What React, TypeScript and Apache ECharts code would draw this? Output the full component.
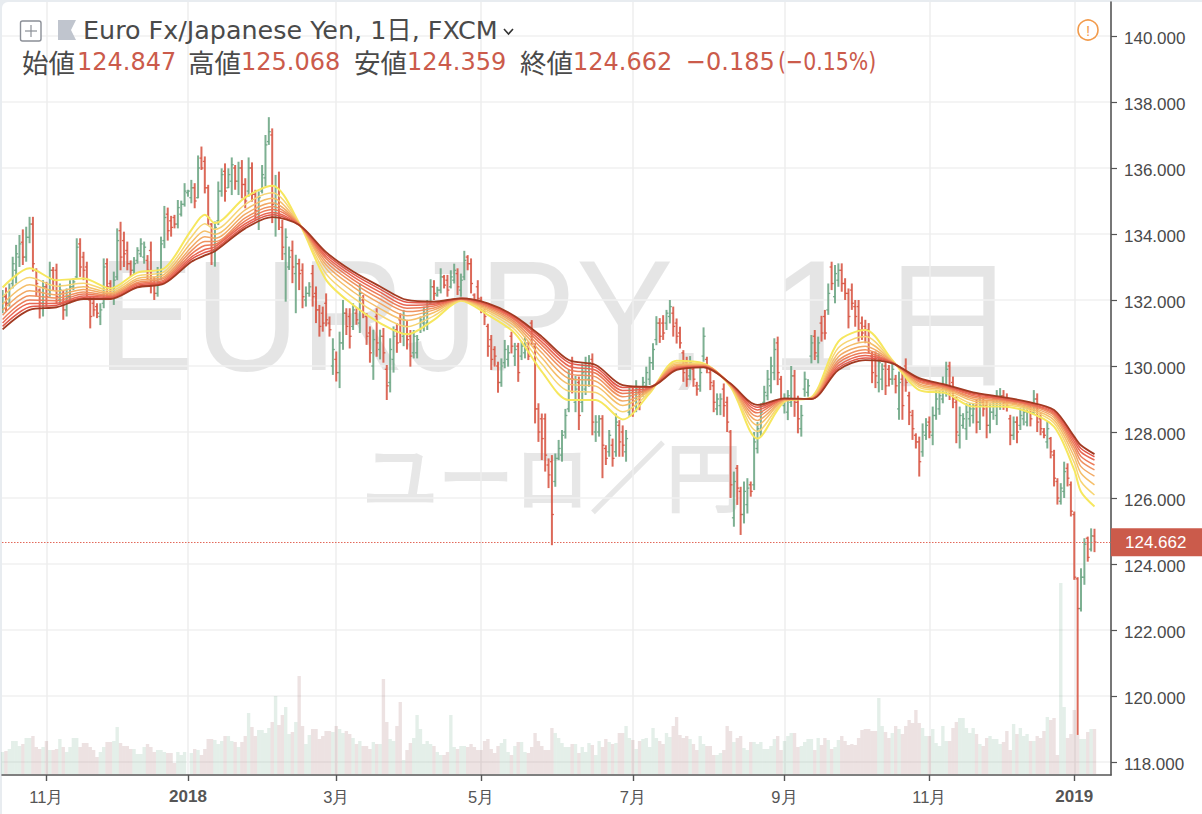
import React, { useEffect, useRef } from "react";
import * as echarts from "echarts";

type Bar = [number, number, number, number];

// [open, high, low, close], day by day
const barsA: Bar[] = [
[131.8,132.3,131.6,132.1],[132.1,132.38,131.65,131.9],[131.9,132.5,131.8,132.35],[132.5,133.31,132.35,133.1],[132.9,133.67,132.5,133.4],
[133.3,133.97,133,133.7],[133.75,134.14,133.06,133.3],[133.3,134.22,133.16,133.9],[133.9,134.52,133.72,134.3],[134.3,134.52,132.86,133.1],
[132.9,132.96,132.1,132.5],[132.3,132.35,131.44,131.9],[131.9,132.6,131.5,132.4],[132.4,132.55,131.8,132.1],[132.3,133.16,132.1,132.9],
[132.9,133,132.3,132.6],[132.9,133.1,131.9,132.1],[132,132.5,131.85,132.3],[132.2,132.3,131.4,131.7],[131.7,132.35,131.5,132.1],
[132.1,132.6,131.9,132.4],[132.4,132.65,132.3,132.55],[132.7,133.87,132.65,133.6],[133.7,133.87,132.7,133],[133.3,133.46,132.6,132.9],
[133,133.16,132.1,132.4],[132,132.1,131.14,131.5],[131.9,132.1,131.5,131.7],[131.8,131.9,131.45,131.6],[131.5,131.9,131.24,131.7],
[131.9,133.26,131.75,133],[133.1,133.26,132.1,132.4],[132.5,132.6,132,132.2],[132.1,132.86,131.85,132.6],[132.7,134.17,132.6,133.8],
[134.1,134.37,132.9,133.3],[133.8,134.07,133,133.4],[133.5,133.77,132.9,133.1],[133.1,133.2,132.7,132.9],[132.9,133.3,132.76,133.1],
];
const barsB: Bar[] = [
[133.2,133.6,133.1,133.5],[133.4,133.87,133.3,133.7],[133.3,133.77,133.1,133.6],[133.2,133.36,132.6,132.9],[133.5,133.77,132.2,132.5],
[132.5,132.7,132,132.2],[132.2,133,132.1,132.8],[132.8,133.92,132.6,133.7],[133.8,134.85,133.57,134.5],[134.6,134.8,133.8,134.1],
[134.4,134.55,133.92,134.2],[134.5,134.58,134.17,134.3],[134.3,135.03,134.17,134.8],[134.6,135.01,134.53,134.9],[134.9,135.54,134.83,135.3],
[135.25,135.34,135.13,135.3],[135.1,135.64,134.93,135.4],[135.4,135.54,134.78,135],[135.1,136.38,135.08,136],[136.3,136.65,135.94,136],
[136.2,136.35,135.23,135.4],[135.4,135.49,134.27,134.5],[134.3,134.33,133.06,133.5],[133.5,134.38,133.01,134.2],[134.4,135.59,134.27,135.3],
[135.3,135.99,135.13,135.8],[135.9,136.14,134.98,135.3],[135.4,135.99,135.39,135.8],[135.6,136.32,135.18,136.1],[136,136.09,135.34,135.6],
[135.6,136.19,135.18,136],[136,136.24,135.08,135.5],[135.5,135.69,134.78,135],[135.3,136.32,135.13,136],[136,136.17,134.98,135.2],
[135.2,135.34,134.43,134.7],[134.6,135.29,134.12,135.1],[135.3,136.09,135.23,135.8],[135.7,137,135.44,136.7],[136.8,137.54,136.7,137.1],
];
const barsC: Bar[] = [
[137,137.2,134.33,134.9],[134.6,135.79,133.92,135.4],[135.4,135.89,134.12,134.5],[134.2,134.43,133.21,133.6],[133.4,134.17,131.95,133.9],
[133,133.62,132.91,133.3],[133.5,133.8,132.51,133],[132.8,133.37,131.6,133.1],[133.1,133.25,132.3,132.8],[132.9,133.11,131.75,132.1],
[132,132.41,131.8,132.2],[132.2,132.54,132.1,132.4],[132.8,133.06,131.8,132.1],[132.2,132.41,131.3,131.7],[131.7,131.85,130.89,131.2],
[131.6,131.8,131.04,131.3],[131.9,132.2,131.2,131.4],[131.3,131.5,130.89,131.1],[130,130.84,129.73,130.5],[130.2,130.44,129.53,129.8],
[129.8,131.04,129.33,130.7],[130.7,132,130.49,131.6],[131.6,131.75,130.94,131.2],[131.5,131.75,130.53,130.9],[131.2,131.9,131.09,131.7],
[131.6,131.75,131.25,131.4],[131.3,132.5,131,132.2],[132,132.15,131.45,131.6],[131.5,131.6,130.64,130.9],[131,131.2,130.1,130.4],
[130,131.1,129.58,130.8],[131.5,131.75,130.28,130.7],[130.5,131.1,130.2,130.9],[130.9,131.15,130.1,130.4],[129.9,130.03,128.97,129.4],
[129.5,130.84,129.2,130.5],[130.2,131.2,129.8,130.9],[131.1,131.3,130.4,130.7],[131.4,131.6,130.7,131],[130.9,131.7,130.6,131.4],
];
const barsD: Bar[] = [
[131.2,131.4,130.5,130.8],[130.9,131.09,129.98,130.3],[130.4,131.09,130.23,130.9],[130.4,130.94,130.23,130.8],[131.1,131.5,131,131.4],
[131.3,131.8,131.05,131.6],[131.3,132,131.09,131.8],[131.9,132.63,131.85,132.4],[132.4,132.6,132,132.2],[132.15,132.4,132.1,132.3],
[132.3,132.96,132.2,132.7],[132.7,132.76,132.35,132.45],[132.6,132.76,132.1,132.3],[132.4,132.9,132.35,132.7],[132.6,133.1,132.5,132.9],
[132.8,132.96,132.15,132.4],[132.3,132.8,132.1,132.6],[132.7,133.49,132.6,133.2],[133.3,133.36,132.9,133.1],[133.1,133.26,132.2,132.5],
[132.15,132.2,131.85,132],[132.4,132.6,131.85,132.05],[132,132.1,131.6,131.8],[131.7,131.75,131.24,131.5],[131.2,131.28,130.28,130.6],
[130.8,130.94,129.88,130.2],[130.5,130.6,129.98,130.3],[130,130.13,129.19,129.5],[129.5,130.23,129.37,130],[130.1,130.79,129.93,130.5],
[130.2,130.63,129.98,130.4],[130.9,131.04,130.38,130.6],[130.3,130.7,130,130.5],[130.6,130.7,129.52,129.8],[130.3,130.74,130.18,130.6],
[130.4,130.89,130.23,130.7],[130.6,130.74,130.18,130.3],[131.3,131.39,130.63,130.9],[130.6,130.69,128.26,128.7],[128.7,128.87,127.7,128],
];
const barsE: Bar[] = [
[128.4,128.56,127.15,127.8],[128.4,128.56,126.8,127.3],[127,127.2,126.3,126.7],[127.1,127.3,124.57,125.5],[126.5,127.35,126.34,127.2],
[127.2,127.76,127.15,127.5],[127.3,128.06,127.1,127.9],[128,128.7,127.8,128.5],[128.7,129.88,128.6,129.6],[130,130.28,129.17,129.6],
[128.9,129.7,128.6,129.3],[129.5,129.68,128.06,128.5],[128.9,130.08,128.6,129.8],[129.3,130.28,129.12,130],[129.6,130.33,129.37,130.1],
[130.2,130.38,127.9,128.3],[128,128.51,127.7,128.3],[128,128.51,127.86,128.4],[128.4,128.51,126.6,127.6],[127.5,127.6,127,127.2],
[127.4,128.06,127.25,127.9],[127.6,127.8,126.95,127.2],[127.4,128.56,127.25,128.3],[128.2,128.36,127.25,127.7],[128,128.2,127.25,127.6],
[127.4,128.06,127.1,127.8],[128.6,129.37,128.46,129.1],[129.2,129.37,128.46,128.8],[128.8,129.57,128.6,129.3],[129.2,129.37,128.66,128.9],
[129.2,129.67,129.07,129.5],[129.4,129.98,129.17,129.8],[129.6,130.28,129.42,130.1],[130.1,130.69,129.88,130.5],[130.8,131.51,130.63,131.3],
[131.3,131.45,130.7,130.9],[131.3,131.54,130.79,131],[131.3,131.7,131.09,131.6],[131.5,132,131.29,131.8],[131.6,131.8,130.89,131.2],
];
const barsF: Bar[] = [
[131.3,131.44,130.68,130.9],[131,131.19,130.53,130.7],[130.4,130.48,129.52,129.8],[130.1,130.28,129.37,129.6],[129.7,130.3,129.57,130.1],
[129.9,130.03,129.37,129.6],[129.4,129.52,129.1,129.3],[129.4,129.98,129.22,129.8],[130.3,131.17,130.13,130.9],[130.2,130.28,129.78,130],
[129.8,129.88,129.27,129.5],[129.4,129.57,128.6,128.9],[128.7,129.17,128.51,129],[128.8,129.17,128.51,129],[129.3,129.47,128.46,128.8],
[128.9,129.07,128,128.3],[128,128.06,126,126.4],[125.4,126.8,125.13,126.5],[126.9,127,125.79,126.3],[126.2,126.34,124.88,125.5],
[125.5,126.5,125.23,126.2],[125.8,126.6,125.53,126.3],[126.4,126.5,126.04,126.2],[126.4,128,126.24,127.7],[127.5,128.3,127.35,128.1],
[128,128.87,127.86,128.6],[128.9,129.4,128.77,129.2],[129.1,129.88,128.96,129.6],[129.4,130.28,129.17,130],[129.8,130.84,129.57,130.5],
[130.7,130.89,129.42,129.8],[129.6,129.7,128.85,129],[128.8,129.17,128.56,129],[128.6,129.27,128.36,129.1],[128.9,130,128.76,129.7],
[129.7,129.88,128.46,128.9],[128.9,129.1,127.96,128.4],[128.1,128.82,127.86,128.5],[129.3,129.83,129.07,129.6],[129.2,129.6,129.07,129.4],
];
const barsG: Bar[] = [
[130.3,130.94,130.08,130.7],[130.9,131.09,130.18,130.4],[130.3,130.89,130.08,130.7],[131.3,131.52,130.74,131],[131.5,131.7,130.8,131],
[131.7,132.5,131.55,132.2],[133,133.16,132.3,132.5],[132.1,133.06,131.9,132.8],[132.6,133.11,132.4,132.9],[132.9,133.11,132.25,132.5],
[132.5,132.66,132,132.2],[132.2,132.35,131.14,131.5],[132.3,132.5,131.7,131.9],[131.8,132,131.19,131.5],[131.8,132,130.74,131.1],
[131.3,131.5,130.79,131],[131.2,131.4,130.69,130.9],[131.1,131.3,130.38,130.7],[130.3,130.44,129.48,129.8],[130.2,130.44,129.33,129.7],
[129.5,130.38,129.2,130.1],[129.6,130.08,129.27,129.9],[130,130.18,129.12,129.4],[129.9,130.03,129.38,129.6],[129.6,130.08,129.43,129.9],
[129.6,129.73,129.17,129.4],[128.7,129.83,128.37,129.5],[129.6,129.78,128.37,128.8],[130,130.23,129.22,129.5],[129.1,129.22,128.21,128.6],
[128.5,128.67,127.76,128.1],[127.9,127.96,127.5,127.7],[127.7,127.86,126.65,127.1],[127.4,128.26,127.25,128],[127.9,128.42,127.76,128.2],
[128.3,128.47,127.81,128],[127.9,128.77,127.6,128.5],[128.5,129.27,128.37,129],[128.7,129.27,128.52,129.1],[129,129.68,128.87,129.4],
];
const barsH: Bar[] = [
[129.3,130.13,129.07,129.9],[130,130.13,128.97,129.3],[129.5,129.68,128.72,129],[128.9,129.07,127.66,128],[127.9,128.77,127.5,128.5],
[128.2,128.57,128.1,128.4],[128.1,128.87,127.76,128.6],[128.4,128.87,128.16,128.7],[128.5,128.87,128.26,128.7],[128.8,128.97,127.96,128.3],
[128.3,129.07,128.06,128.8],[128.9,129.07,128.47,128.7],[128.8,128.97,127.81,128.2],[128.2,128.87,127.96,128.6],[128.6,129.07,128.37,128.9],
[128.5,129.27,128.21,129],[128.9,129.33,128.67,129.1],[129.1,129.27,128.67,128.9],[129,129.17,128.62,128.8],[128.4,128.52,127.6,127.9],
[127.9,128.47,127.76,128.3],[128.3,128.47,127.66,128],[128.2,128.72,128.06,128.5],[128.4,128.77,128.2,128.6],[128.3,128.72,128.17,128.6],
[128.7,128.87,128.17,128.4],[128.6,129.27,128.52,129],[129,129.17,128,128.3],[128.4,128.57,127.9,128.1],[128,128.12,127.81,127.9],
[127.7,128.32,127.5,128.1],[127.8,127.85,127.2,127.4],[127.3,127.46,126.35,126.6],[126.5,126.6,125.8,126],[125.9,126.45,125.8,126.3],
[126.2,127.1,126,126.8],[126.9,127.05,126.35,126.6],[126.4,126.5,125.44,125.6],[125.5,125.59,123.52,123.6],[123.55,123.6,118.82,122.65],
[122.65,123.87,122.56,123.6],[123.6,124.78,123.37,124.6],[124.78,124.83,124.07,124.2],[124.45,125.08,124.38,124.85],[124.847,125.068,124.359,124.662],
];

const volumes: number[] = [
22,23,25,33,33,28,30,36,36,38, 27,25,27,33,24,24,25,35,27,22, 27,36,36,27,31,31,27,24,17,22, 27,32,32,33,47,31,28,28,25,25,
20,20,27,30,27,22,24,24,22,21, 21,11,22,19,22,0,21,25,24,19, 25,35,35,34,30,33,38,38,33,32, 27,32,38,61,47,38,44,44,41,46,
52,78,49,59,67,40,42,52,98,48, 30,39,45,45,35,38,43,43,42,48, 45,41,43,40,36,30,33,28,28,25, 32,30,30,95,52,35,33,48,72,14,
24,31,36,59,45,30,33,30,28,22, 19,19,22,59,27,25,28,28,27,30, 27,24,24,33,35,25,21,28,31,35, 22,19,28,32,32,22,21,27,41,33,
28,24,24,46,41,36,31,27,27,30, 30,21,27,22,31,29,19,33,27,35, 32,30,31,41,41,48,36,34,25,33, 35,36,27,46,36,33,30,41,37,48,
57,39,36,38,35,30,24,38,30,28, 28,19,19,21,24,48,43,32,36,38, 26,24,32,32,30,32,25,25,28,35, 38,24,33,38,41,41,27,28,32,35,
35,24,36,29,36,34,25,27,34,38, 33,29,30,29,36,44,45,45,43,43, 76,48,42,36,41,48,45,40,48,54, 51,64,51,46,38,38,45,31,28,48,
33,33,46,52,56,56,46,41,46,40, 30,28,36,38,35,35,30,32,43,24, 50,40,46,38,40,33,33,38,36,43, 57,54,56,19,191,67,36,40,64,39,
35,35,42,45,45,
];

// bar numbers at which the nine moving-average lines were read
const ribbonDays = [0,8,16,24,32,40,48,56,60,63,72,80,88,96,104,112,120,128,136,144,152,160,168,176,184,192,200,208,216,224,232,240,248,256,264,272,280,288,296,304,312,318,320,324];
const ribbon1 = [132.38,132.96,132.6,132.65,132.35,132.83,132.96,134.12,134.58,134.33,135.11,135.46,134.33,132.61,131.85,131.3,130.96,131.4,131.98,131.55,130.99,129.83,128.97,128.97,128.38,129.17,130.16,130.08,129.37,127.8,128.92,129.05,130.74,131.09,130.18,129.27,129.17,128.77,128.77,128.62,128.16,126.85,126.19,125.74];
const ribbon2 = [132.1,132.68,132.42,132.51,132.28,132.73,132.86,133.91,134.31,134.14,134.9,135.25,134.32,132.79,132.07,131.54,131.19,131.52,131.99,131.63,131.1,130.06,129.24,129.2,128.61,129.21,130.1,130.05,129.39,128.02,128.94,129.04,130.55,130.89,130.16,129.35,129.23,128.86,128.84,128.69,128.27,127.07,126.5,126.09];
const ribbon3 = [131.87,132.46,132.27,132.4,132.22,132.65,132.78,133.74,134.09,133.99,134.73,135.08,134.31,132.95,132.25,131.74,131.38,131.62,132.01,131.69,131.2,130.25,129.45,129.39,128.8,129.25,130.05,130.03,129.41,128.21,128.96,129.03,130.4,130.73,130.14,129.41,129.27,128.94,128.89,128.74,128.36,127.25,126.75,126.4];
const ribbon4 = [131.69,132.28,132.16,132.32,132.18,132.59,132.71,133.6,133.92,133.87,134.6,134.95,134.3,133.06,132.4,131.9,131.52,131.7,132.02,131.74,131.27,130.4,129.62,129.54,128.94,129.28,130.01,130.02,129.42,128.35,128.97,129.02,130.28,130.6,130.13,129.46,129.31,129,128.93,128.78,128.44,127.4,126.95,126.66];
const ribbon5 = [131.54,132.13,132.06,132.24,132.14,132.53,132.66,133.49,133.77,133.77,134.49,134.83,134.29,133.16,132.52,132.03,131.65,131.76,132.03,131.78,131.33,130.53,129.77,129.67,129.07,129.3,129.98,130,129.44,128.47,128.99,129.02,130.17,130.49,130.11,129.51,129.34,129.05,128.97,128.82,128.5,127.52,127.12,126.85];
const ribbon6 = [131.41,132,131.98,132.18,132.11,132.49,132.61,133.39,133.65,133.68,134.4,134.74,134.28,133.25,132.62,132.14,131.75,131.82,132.03,131.82,131.39,130.64,129.89,129.78,129.17,129.32,129.95,129.99,129.45,128.58,129,129.01,130.09,130.4,130.1,129.54,129.37,129.1,129,128.85,128.55,127.62,127.26,127];
const ribbon7 = [131.3,131.89,131.9,132.12,132.08,132.45,132.57,133.3,133.53,133.61,134.31,134.65,134.28,133.32,132.71,132.24,131.84,131.87,132.04,131.85,131.43,130.73,130,129.87,129.26,129.34,129.92,129.98,129.45,128.67,129,129.01,130.01,130.32,130.1,129.58,129.39,129.14,129.02,128.87,128.59,127.71,127.39,127.15];
const ribbon8 = [131.2,131.79,131.84,132.07,132.05,132.41,132.53,133.23,133.44,133.54,134.24,134.58,134.27,133.39,132.79,132.33,131.93,131.91,132.05,131.88,131.47,130.82,130.1,129.96,129.35,129.36,129.9,129.97,129.46,128.75,129.01,129,129.94,130.24,130.09,129.6,129.41,129.17,129.05,128.9,128.63,127.79,127.5,127.25];
const ribbon9 = [131.11,131.7,131.78,132.03,132.03,132.38,132.5,133.16,133.35,133.48,134.17,134.51,134.27,133.45,132.86,132.41,132,131.95,132.05,131.9,131.51,130.89,130.18,130.03,129.42,129.37,129.88,129.96,129.47,128.82,129.02,129,129.88,130.18,130.08,129.63,129.43,129.2,129.07,128.92,128.67,127.86,127.6,127.33];
const ribbons = [ribbon1, ribbon2, ribbon3, ribbon4, ribbon5, ribbon6, ribbon7, ribbon8, ribbon9];
const ribbonColors = ["#f6e75e", "#f7d573", "#f5bf6a", "#f2a965", "#ef9260", "#ec7b59", "#e86753", "#e2574a", "#a23a22"];
const ribbonWidths = [2, 1.5, 1.5, 1.5, 1.5, 1.5, 1.5, 1.5, 1.8];

const priceTicks = [118, 120, 122, 124, 126, 128, 130, 132, 134, 136, 138, 140];
const monthTicks = [13, 55, 99, 142, 187, 232, 275, 318];
const monthLabels = ["11月", "2018", "3月", "5月", "7月", "9月", "11月", "2019"];
const lastClose = 124.662;

const UP = "#6ba583";
const DOWN = "#d75442";
const HEAD_FONT = "'DejaVu Sans', 'Noto Sans CJK JP'";
const GREY = "#4a4a4a";
const VAL = "#cb5b4b";

function headLabel(text: string, x: number) {
  return {
    type: "text", z: 100, x, y: 61, silent: true,
    style: { text, fill: GREY, font: "26.5px 'Noto Sans CJK JP'", textVerticalAlign: "middle" },
  };
}
function headValue(text: string, x: number, scaleX = 0.96) {
  return {
    type: "text", z: 100, x, y: 61, scaleX, silent: true,
    style: { text, fill: VAL, font: `25px ${HEAD_FONT}`, textVerticalAlign: "middle" },
  };
}

export default function App() {
  const ref = useRef<HTMLDivElement>(null);
  useEffect(() => {
    if (!ref.current) return;
    const chart = echarts.init(ref.current, undefined, { renderer: "svg" });
    const bars = [...barsA, ...barsB, ...barsC, ...barsD, ...barsE, ...barsF, ...barsG, ...barsH];

    const series: any[] = [
      {
        type: "bar", xAxisIndex: 0, yAxisIndex: 1, barWidth: 3.37, silent: true,
        data: volumes.map((v, i) => ({
          value: [i, v],
          itemStyle: {
            color: bars[i][3] >= bars[i][0] ? "rgba(107,165,131,0.18)" : "rgba(150,85,85,0.17)",
          },
        })),
      },
      {
        type: "custom", xAxisIndex: 0, yAxisIndex: 0, clip: true, z: 3, silent: true,
        encode: { x: 0, y: [2, 3] },
        data: bars.map((b, i) => [i, b[0], b[1], b[2], b[3]]),
        renderItem: (_p: any, api: any) => {
          const n = api.value(0);
          const o = api.coord([n, api.value(1)]);
          const h = api.coord([n, api.value(2)]);
          const l = api.coord([n, api.value(3)]);
          const c = api.coord([n, api.value(4)]);
          const stroke = api.value(4) >= api.value(1) ? UP : DOWN;
          const mk = (x1: number, y1: number, x2: number, y2: number, w: number) => ({
            type: "line", shape: { x1, y1, x2, y2 }, style: { stroke, lineWidth: w, opacity: 0.88 },
          });
          return {
            type: "group",
            children: [
              mk(h[0], h[1], l[0], l[1], 2),
              mk(o[0] - 2, o[1], o[0], o[1], 1.3),
              mk(c[0], c[1], c[0] + 2, c[1], 1.3),
            ],
          };
        },
      },
      ...ribbons.map((vals, k) => ({
        type: "line", xAxisIndex: 0, yAxisIndex: 0, z: 4 + k * 0.01, silent: true,
        showSymbol: false, smooth: 0.3,
        lineStyle: { color: ribbonColors[k], width: ribbonWidths[k] },
        data: ribbonDays.map((d, i) => [d, vals[i]]),
      })),
      {
        type: "line", xAxisIndex: 0, yAxisIndex: 0, z: 5, silent: true, showSymbol: false,
        data: [],
        markLine: {
          silent: true, symbol: "none", animation: false,
          lineStyle: { color: "#e2695a", type: [1.5, 1.5], width: 1 },
          label: {
            position: "end", distance: 0, formatter: lastClose.toFixed(3), color: "#fff",
            backgroundColor: "#cb5b4b", fontSize: 17, fontFamily: "'Liberation Sans'",
            padding: [6, 16, 5, 14],
          },
          data: [{ yAxis: lastClose }],
        },
      },
    ];

    chart.setOption({
      animation: false,
      backgroundColor: "transparent",
      textStyle: { fontFamily: "'Liberation Sans'" },
      grid: { left: 2, top: 2, width: 1109, height: 773, containLabel: false },
      xAxis: {
        type: "value", min: -0.18, max: 328.9, boundaryGap: false,
        axisLine: { onZero: false, lineStyle: { color: "#555", width: 1.6 } },
        axisTick: { customValues: monthTicks, length: 6, lineStyle: { color: "#555", width: 1.4 } },
        splitLine: { show: true, customValues: monthTicks, lineStyle: { color: "#eeeeee", width: 1.5 } },
        axisLabel: {
          customValues: monthTicks, margin: 13, color: "#555", fontSize: 16.5,
          formatter: (v: number) => {
            const t = monthLabels[monthTicks.indexOf(v)] ?? "";
            return t.startsWith("20") ? `{b|${t}}` : t;
          },
          rich: { b: { fontWeight: "bold", fontSize: 17, color: "#555", fontFamily: "'Liberation Sans'" } },
        },
      },
      yAxis: [
        {
          type: "value", position: "right", min: 117.606, max: 141.03, scale: true,
          axisLine: { show: true, onZero: false, lineStyle: { color: "#555", width: 1.6 } },
          axisTick: { show: true, customValues: priceTicks, length: 6, lineStyle: { color: "#555", width: 1.2 } },
          splitLine: { show: true, customValues: priceTicks, lineStyle: { color: "#f0f0f0", width: 1.5 } },
          axisLabel: {
            customValues: priceTicks, margin: 13,
            formatter: (v: number) => `{p|${v.toFixed(3)}}`,
            rich: { p: { color: "#4a4a4a", fontSize: 17, fontFamily: "'Liberation Sans'", padding: [5, 0, 0, 0] } },
          },
        },
        { type: "value", show: false, min: -1, max: 772, splitLine: { show: false }, axisLine: { onZero: false } },
      ],
      graphic: [
        {
          type: "text", z: 0, x: 97, y: 394, scaleX: 0.925, silent: true,
          style: { text: "EURJPY", fill: "rgba(0,0,0,0.1)", font: "158px 'Liberation Sans'", textVerticalAlign: "bottom" },
        },
        {
          type: "text", z: 0, x: 664, y: 394, silent: true,
          style: { text: ",", fill: "rgba(0,0,0,0.1)", font: "158px 'Liberation Sans'", textVerticalAlign: "bottom" },
        },
        {
          type: "text", z: 0, x: 770, y: 394, silent: true,
          style: { text: "1", fill: "rgba(0,0,0,0.1)", font: "158px 'Liberation Sans'", textVerticalAlign: "bottom" },
        },
        {
          type: "text", z: 0, x: 947.5, y: 314, silent: true,
          style: { text: "日", fill: "rgba(0,0,0,0.1)", font: "142px 'Noto Sans CJK JP'", textAlign: "center", textVerticalAlign: "middle" },
        },
        {
          type: "text", z: 0, x: 552, y: 473, silent: true,
          style: { text: "ユーロ／円", fill: "#e7e7e7", stroke: "#e7e7e7", lineWidth: 2, font: "76px 'Noto Sans CJK JP'", textAlign: "center", textVerticalAlign: "middle" },
        },
        { type: "rect", z: 100, silent: true, shape: { x: 20.5, y: 21, width: 20.5, height: 20, r: 2 }, style: { fill: "#fff", stroke: "#8b8f97", lineWidth: 1.4 } },
        { type: "line", z: 101, silent: true, shape: { x1: 25, y1: 31, x2: 37, y2: 31 }, style: { stroke: "#8b8f97", lineWidth: 1.2 } },
        { type: "line", z: 101, silent: true, shape: { x1: 31, y1: 25, x2: 31, y2: 37 }, style: { stroke: "#8b8f97", lineWidth: 1.2 } },
        { type: "polygon", z: 100, silent: true, shape: { points: [[58, 20], [76, 20], [71, 30], [76, 40], [58, 40]] }, style: { fill: "#c0c5ce" } },
        {
          type: "text", z: 100, x: 83, y: 30, silent: true,
          style: { text: "Euro Fx/Japanese Yen, 1日, FXCM", fill: GREY, font: `25.4px ${HEAD_FONT}`, textVerticalAlign: "middle" },
        },
        { type: "polyline", z: 100, silent: true, shape: { points: [[504, 29], [508.5, 34], [513, 29]] }, style: { stroke: "#333", lineWidth: 1.6, fill: "none" } },
        headLabel("始値", 22),
        headValue("124.847", 77),
        headLabel("高値", 188),
        headValue("125.068", 241),
        headLabel("安値", 354),
        headValue("124.359", 407),
        headLabel("終値", 520),
        headValue("124.662", 573),
        headValue("−0.185", 686),
        headValue("(−0.15%)", 778, 0.82),
        { type: "circle", z: 100, silent: true, shape: { cx: 1088, cy: 30, r: 10 }, style: { fill: "#fff", stroke: "#f29b4c", lineWidth: 1.6 } },
        { type: "text", z: 101, x: 1088, y: 30, silent: true, style: { text: "!", fill: "#f29b4c", font: "15px 'Liberation Sans'", textAlign: "center", textVerticalAlign: "middle" } },
      ],
      series,
    });
    return () => chart.dispose();
  }, []);

  return (
    <div style={{ position: "fixed", left: 0, top: 0, width: 1202, height: 814, background: "#e8ecf0", overflow: "hidden" }}>
      <div style={{ position: "absolute", left: 2, top: 2, right: 0, bottom: 0, background: "#fff", borderTopLeftRadius: 6 }} />
      <div ref={ref} style={{ position: "absolute", left: 0, top: 0, width: 1202, height: 814 }} />
    </div>
  );
}
